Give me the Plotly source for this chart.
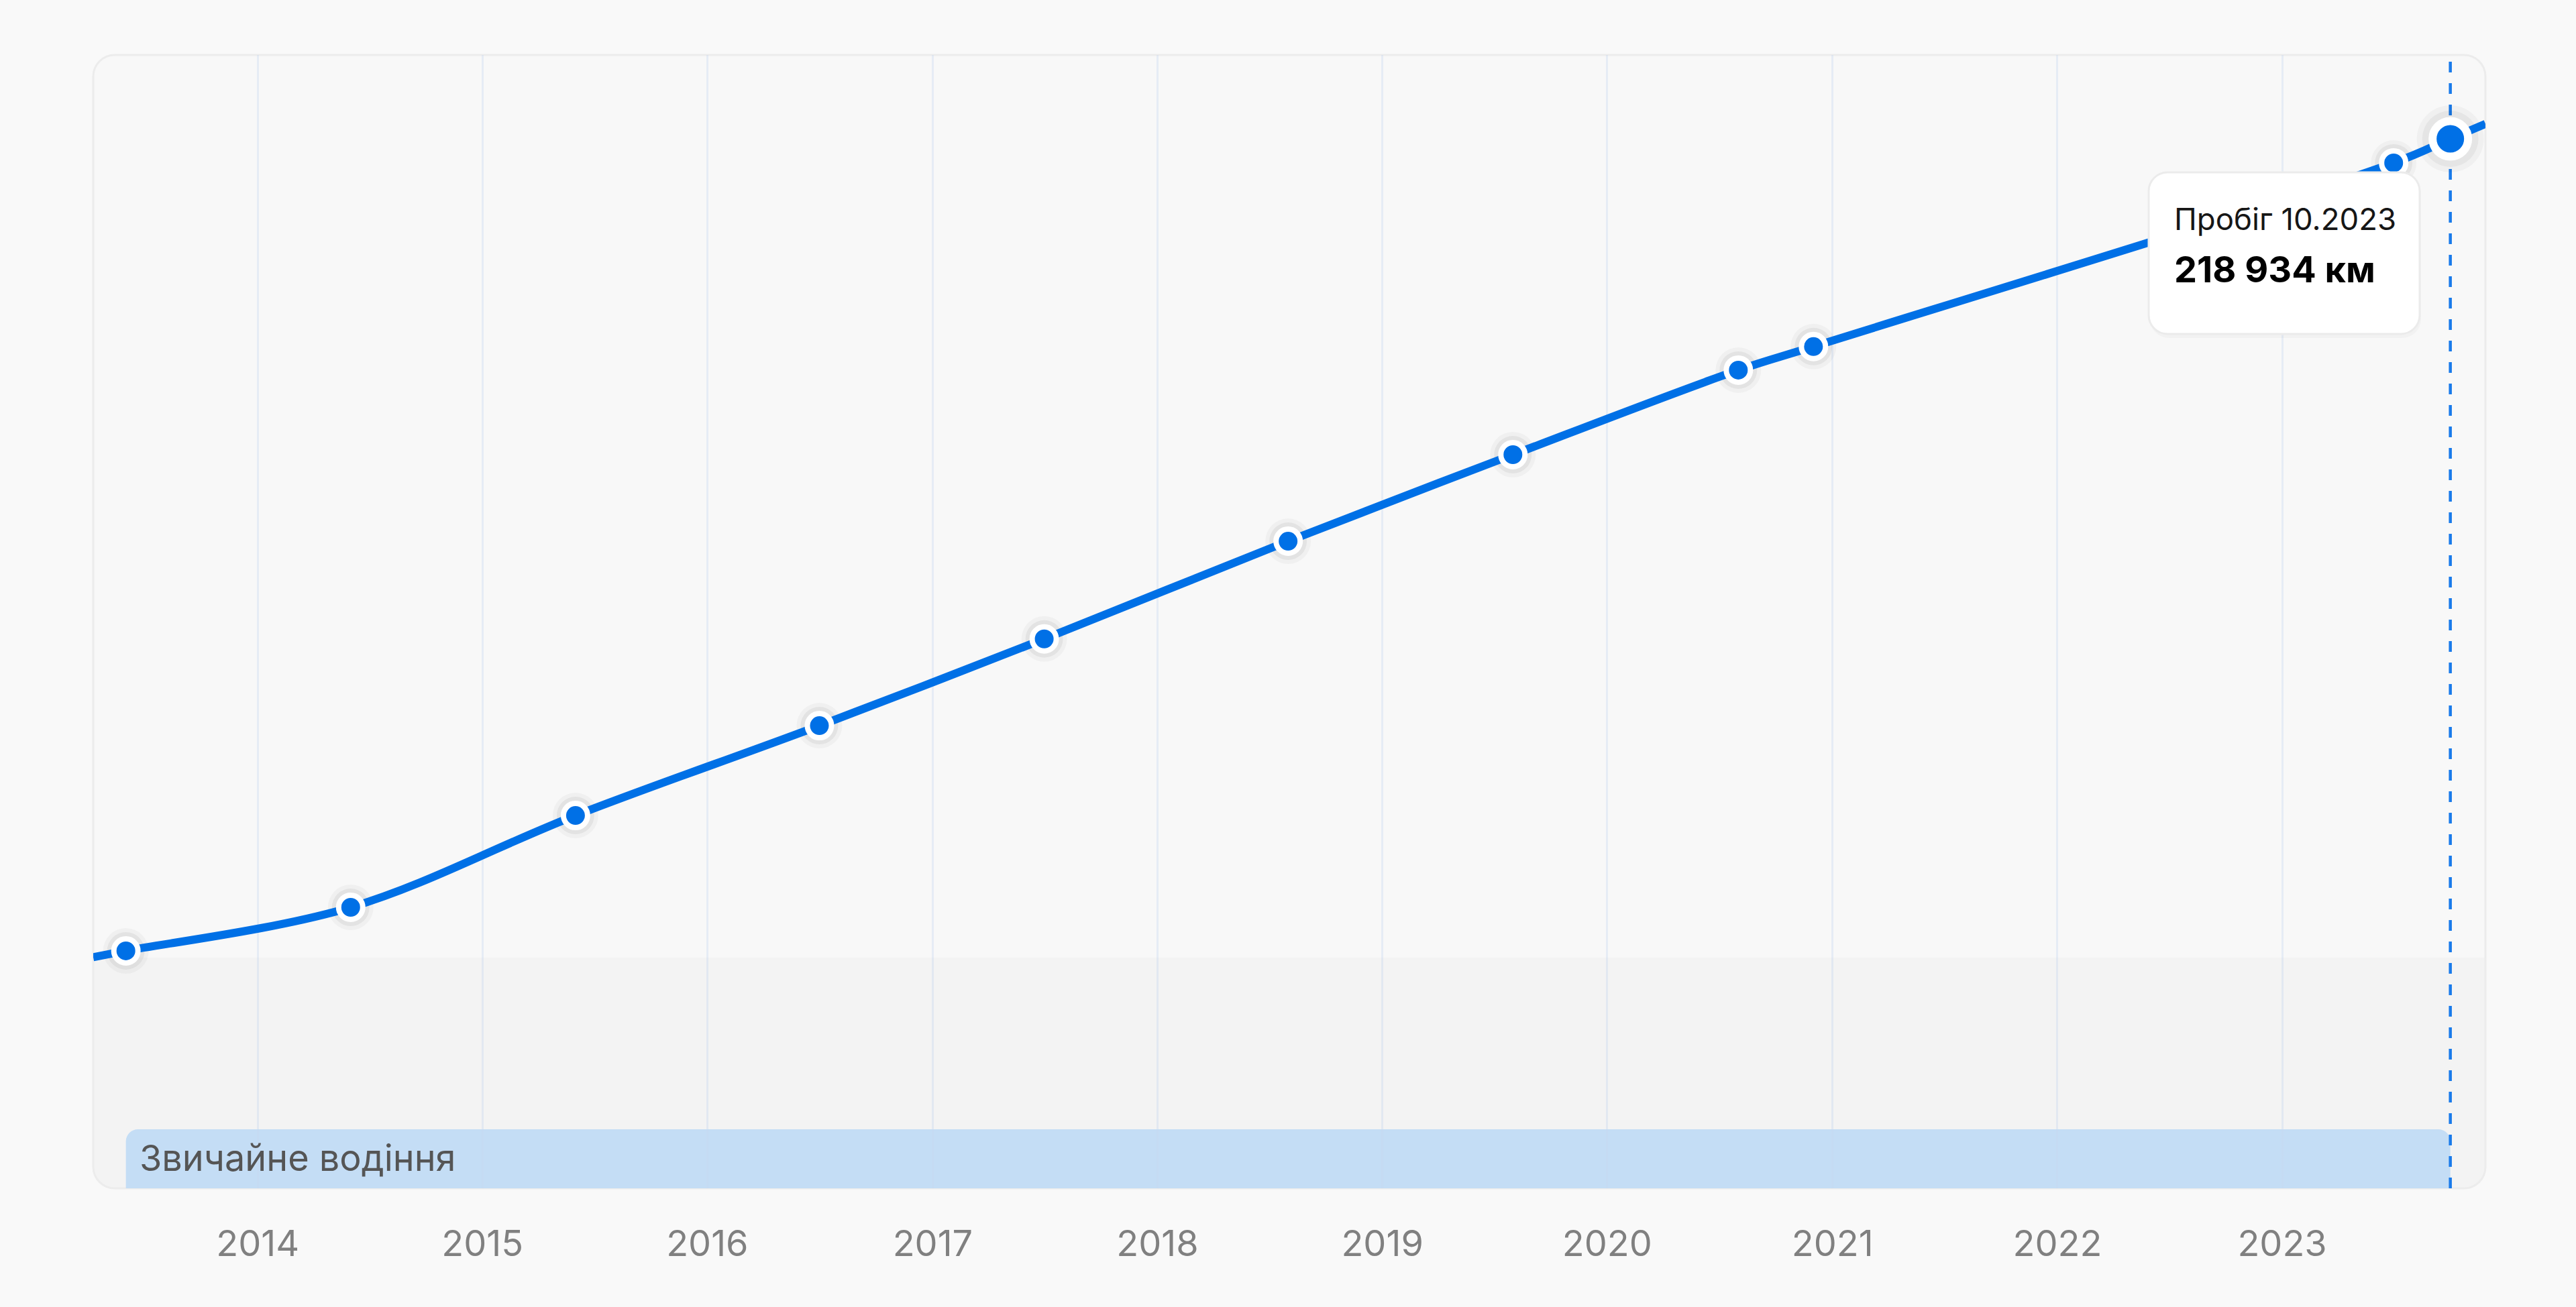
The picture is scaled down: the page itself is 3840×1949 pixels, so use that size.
import plotly.graph_objects as go
import pandas as pd

# ---------------- data ----------------
dates = ["2013-06-01", "2014-06-01", "2015-06-01", "2016-07-01", "2017-07-01",
         "2018-08-01", "2019-08-01", "2020-08-01", "2020-12-01", "2023-07-01",
         "2023-10-01"]
mileage_km = [12000, 23100, 46500, 69400, 91500, 116400, 138450, 160000,
              166000, 212800, 218934]
year_ticks = [2014, 2015, 2016, 2017, 2018, 2019, 2020, 2021, 2022, 2023]
period_label = "Звичайне водіння"
period_start = "2013-06-01"
period_end = "2023-10-01"
tooltip_title = "Пробіг"
unit_label = "км"

# ---------------- layout constants ----------------
W, H = 3840, 1949
PL, PR, PT, PB = 139, 135, 82, 177
PW, PH = W - PL - PR, H - PT - PB
X_RANGE = ["2013-04-09", "2023-11-27"]
Y_RANGE = [-48500, 240300]

BLUE = "#0070E6"
FONT = "Inter, 'Noto Sans', sans-serif"
K = 0.5523


def px(x):
    return (x - PL) / PW


def py(y):
    return (H - PB - y) / PH


def rounded_path(x0, y0, x1, y1, r, tl=True, tr=True, br=True, bl=True):
    def P(x, y):
        return f"{px(x):.6f},{py(y):.6f}"
    s = ["M" + P(x0 + (r if tl else 0), y0),
         "L" + P(x1 - (r if tr else 0), y0)]
    if tr:
        s.append("C" + P(x1 - r + K * r, y0) + " " + P(x1, y0 + r - K * r) + " " + P(x1, y0 + r))
    s.append("L" + P(x1, y1 - (r if br else 0)))
    if br:
        s.append("C" + P(x1, y1 - r + K * r) + " " + P(x1 - r + K * r, y1) + " " + P(x1 - r, y1))
    s.append("L" + P(x0 + (r if bl else 0), y1))
    if bl:
        s.append("C" + P(x0 + r - K * r, y1) + " " + P(x0, y1 - r + K * r) + " " + P(x0, y1 - r))
    s.append("L" + P(x0, y0 + (r if tl else 0)))
    if tl:
        s.append("C" + P(x0, y0 + r - K * r) + " " + P(x0 + r - K * r, y0) + " " + P(x0 + r, y0))
    s.append("Z")
    return " ".join(s)


# ---------------- line extension to the plot edges ----------------
ts = pd.to_datetime(dates)
t_days = [(t - pd.Timestamp("1970-01-01")) / pd.Timedelta(days=1) for t in ts]
xl, xr = pd.Timestamp(X_RANGE[0]), pd.Timestamp(X_RANGE[1])
tl_d = (xl - pd.Timestamp("1970-01-01")) / pd.Timedelta(days=1)
tr_d = (xr - pd.Timestamp("1970-01-01")) / pd.Timedelta(days=1)
slope_l = (mileage_km[1] - mileage_km[0]) / (t_days[1] - t_days[0])
slope_r = (mileage_km[-1] - mileage_km[-2]) / (t_days[-1] - t_days[-2])
y_left = mileage_km[0] + slope_l * (tl_d - t_days[0])
y_right = mileage_km[-1] + slope_r * (tr_d - t_days[-1])
line_x = [X_RANGE[0]] + dates + [X_RANGE[1]]
line_y = [y_left] + mileage_km + [y_right]

fig = go.Figure()

# soft shadows of markers
for size, alpha in [(68, 0.03), (56, 0.05)]:
    fig.add_trace(go.Scatter(x=dates[:-1], y=mileage_km[:-1], mode="markers",
                             marker=dict(size=size, color=f"rgba(0,0,0,{alpha})", line=dict(width=0)),
                             hoverinfo="skip"))
for size, alpha in [(100, 0.03), (84, 0.045)]:
    fig.add_trace(go.Scatter(x=dates[-1:], y=mileage_km[-1:], mode="markers",
                             marker=dict(size=size, color=f"rgba(0,0,0,{alpha})", line=dict(width=0)),
                             hoverinfo="skip"))

fig.add_trace(go.Scatter(x=line_x, y=line_y, mode="lines",
                         line=dict(color=BLUE, width=12, shape="spline", smoothing=1),
                         hoverinfo="skip"))
fig.add_trace(go.Scatter(x=dates[:-1], y=mileage_km[:-1], mode="markers",
                         marker=dict(size=36, color=BLUE, line=dict(color="white", width=8)),
                         hoverinfo="skip"))
fig.add_trace(go.Scatter(x=dates[-1:], y=mileage_km[-1:], mode="markers",
                         marker=dict(size=53, color=BLUE, line=dict(color="white", width=12)),
                         hoverinfo="skip"))

# ---------------- shapes ----------------
R_PLOT = 32
shapes = []
# plot panel
shapes.append(dict(type="path", xref="paper", yref="paper", layer="below",
                   path=rounded_path(PL, PT, W - PR, H - PB, R_PLOT),
                   fillcolor="#F8F8F8", line=dict(width=0)))
# lower lane
LANE_TOP = 1428
shapes.append(dict(type="path", xref="paper", yref="paper", layer="below",
                   path=rounded_path(PL, LANE_TOP, W - PR, H - PB, R_PLOT, tl=False, tr=False),
                   fillcolor="#F3F3F3", line=dict(width=0)))
# panel border
shapes.append(dict(type="path", xref="paper", yref="paper", layer="below",
                   path=rounded_path(PL, PT, W - PR, H - PB, R_PLOT),
                   fillcolor="rgba(0,0,0,0)", line=dict(color="#ECECEC", width=3)))

# period band (rounded top corners)
BAND_TOP = 1684
r_px = 18
days_per_px = (tr_d - tl_d) / PW
r_days = pd.Timedelta(days=r_px * days_per_px)
ps, pe = pd.Timestamp(period_start), pd.Timestamp(period_end)


def D(t):
    return t.strftime("%Y-%m-%d_%H:%M:%S")


top = py(BAND_TOP)
ry = r_px / PH
band_path = (
    f"M{D(ps)},0 L{D(ps)},{top - ry:.6f} "
    f"C{D(ps)},{top - ry + K * ry:.6f} {D(ps + r_days * (1 - K))},{top:.6f} {D(ps + r_days)},{top:.6f} "
    f"L{D(pe - r_days)},{top:.6f} "
    f"C{D(pe - r_days * (1 - K))},{top:.6f} {D(pe)},{top - ry + K * ry:.6f} {D(pe)},{top - ry:.6f} "
    f"L{D(pe)},0 Z"
)
shapes.append(dict(type="path", xref="x", yref="paper", layer="below",
                   path=band_path, fillcolor="#C4DDF5", line=dict(width=0)))

# dashed vertical line at the latest reading
shapes.append(dict(type="line", xref="x", yref="paper", layer="below",
                   x0=dates[-1], x1=dates[-1], y0=0, y1=1,
                   line=dict(color="#1A7BEA", width=4.5, dash="16px,16px")))

# tooltip box
TT = (3203, 257, 3607, 498)
shapes.append(dict(type="path", xref="paper", yref="paper", layer="above",
                   path=rounded_path(TT[0] + 2, TT[1] + 4, TT[2] + 2, TT[3] + 6, 28),
                   fillcolor="rgba(0,0,0,0.025)", line=dict(width=0)))
shapes.append(dict(type="path", xref="paper", yref="paper", layer="above",
                   path=rounded_path(*TT, 28),
                   fillcolor="#FFFFFF", line=dict(color="#EBEBEB", width=3)))

last_date = pd.Timestamp(dates[-1]).strftime("%m.%Y")
value_text = f"{mileage_km[-1]:,}".replace(",", " ") + " " + unit_label

annotations = [
    dict(xref="paper", yref="paper", x=px(3239), y=py(326), xanchor="left", yanchor="middle",
         text=f"{tooltip_title} {last_date}", showarrow=False,
         font=dict(family=FONT, size=45.5, color="#161616")),
    dict(xref="paper", yref="paper", x=px(3239), y=py(402), xanchor="left", yanchor="middle",
         text=f"<b>{value_text}</b>", showarrow=False,
         font=dict(family=FONT, size=54, color="#000000")),
    dict(xref="x", yref="paper", x=period_start, xshift=18, y=py((BAND_TOP + H - PB) / 2 - 2),
         xanchor="left", yanchor="middle", text=period_label, showarrow=False,
         font=dict(family=FONT, size=54, color="#555555")),
]

fig.update_layout(
    width=W, height=H, autosize=False,
    margin=dict(l=PL, r=PR, t=PT, b=PB, pad=0),
    paper_bgcolor="#F9F9F9", plot_bgcolor="rgba(0,0,0,0)",
    showlegend=False, hovermode=False,
    font=dict(family=FONT),
    shapes=shapes, annotations=annotations,
    xaxis=dict(type="date", range=X_RANGE,
               tickvals=[f"{y}-01-01" for y in year_ticks],
               ticktext=[str(y) for y in year_ticks],
               showgrid=True, gridcolor="rgba(200,215,240,0.38)", gridwidth=3,
               zeroline=False, showline=False, ticks="",
               tickfont=dict(family=FONT, size=54, color="#808080"),
               ticklabelstandoff=46, fixedrange=True),
    yaxis=dict(range=Y_RANGE, showgrid=False, zeroline=False, showline=False,
               showticklabels=False, ticks="", fixedrange=True),
)

fig.write_html("out.html", config={"displayModeBar": False},
               post_script="document.body.style.margin='0';")
